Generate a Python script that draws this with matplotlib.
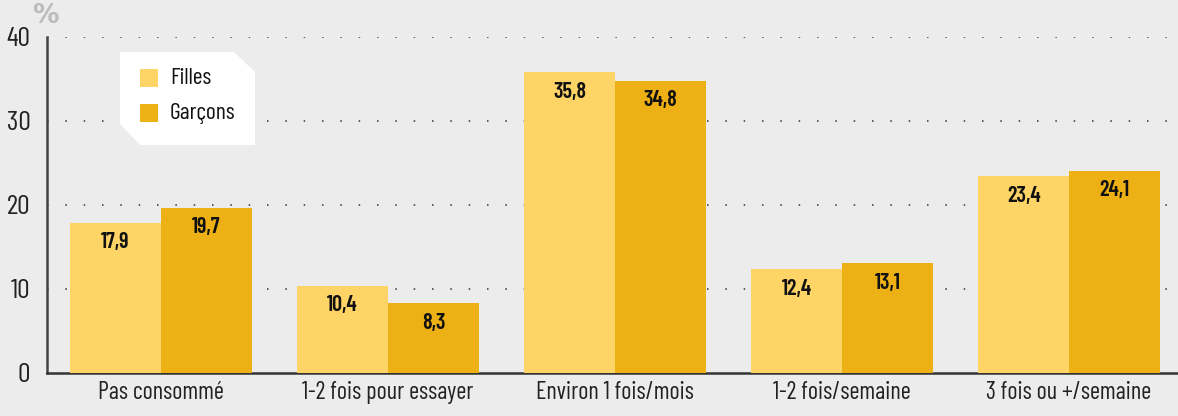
import numpy as np
import matplotlib.pyplot as plt
from matplotlib.patches import Polygon, Rectangle
from matplotlib import font_manager

# données
categories = ['Pas consommé', '1-2 fois pour essayer', 'Environ 1 fois/mois',
              '1-2 fois/semaine', '3 fois ou +/semaine']
filles = [17.9, 10.4, 35.8, 12.4, 23.4]
garcons = [19.7, 8.3, 34.8, 13.1, 24.1]
series_names = ['Filles', 'Garçons']
yticks = [0, 10, 20, 30, 40]

col_f = '#FFD466'
col_g = '#EEB115'
bg = '#ECECEC'

# police étroite : la première disponible
names = {f.name for f in font_manager.fontManager.ttflist}
candidates = ['Barlow Condensed', 'Fira Sans Condensed', 'Barlow Semi Condensed',
              'PT Sans Narrow', 'Roboto Condensed', 'Liberation Sans Narrow']
font = next((c for c in candidates if c in names), 'DejaVu Sans')
plt.rcParams['font.family'] = [font, 'DejaVu Sans']

fig = plt.figure(figsize=(11.78, 4.16), dpi=100, facecolor=bg)
ax = fig.add_axes([0.0399, 0.1034, 0.9601, 0.8077])
ax.set_facecolor(bg)

x = np.arange(len(categories))
w = 0.4
b1 = ax.bar(x - w / 2, filles, w, color=col_f, zorder=3)
b2 = ax.bar(x + w / 2, garcons, w, color=col_g, zorder=3)

for bars, vals in [(b1, filles), (b2, garcons)]:
    for r, v in zip(bars, vals):
        ax.annotate(f'{v:.1f}'.replace('.', ','),
                    (r.get_x() + r.get_width() / 2, v),
                    xytext=(0, -7), textcoords='offset points',
                    ha='center', va='top', fontsize=16, fontweight=600,
                    color='#111111', zorder=4)

ax.set_xlim(-0.502, 4.48)
ax.set_ylim(0, 40)
ax.set_yticks(yticks)
ax.set_yticklabels([str(t) for t in yticks], fontsize=20, color='#222222')
ax.set_xticks(x)
ax.set_xticklabels(categories, fontsize=17.5, color='#222222')
ax.tick_params(axis='both', length=0)
ax.tick_params(axis='y', pad=12)
ax.tick_params(axis='x', pad=6)

for t in yticks[1:]:
    ax.axhline(t, color='#333333', lw=1.1, ls=(0, (1, 11)), zorder=1)

for s in ['top', 'right']:
    ax.spines[s].set_visible(False)
ax.spines['left'].set_color('#444444')
ax.spines['left'].set_linewidth(1.8)
ax.spines['bottom'].set_color('#333333')
ax.spines['bottom'].set_linewidth(1.8)

# légende dans une boîte blanche aux coins coupés
px = lambda X, Y: (X / 1178, 1 - Y / 416)
box = Polygon([px(120, 52), px(234, 52), px(255, 72), px(255, 145),
               px(140, 145), px(120, 124)], closed=True,
              transform=fig.transFigure, facecolor='white', edgecolor='none', zorder=5)
fig.add_artist(box)
for i, (nm, c) in enumerate(zip(series_names, [col_f, col_g])):
    y0 = 69 + i * 35
    sq = Rectangle(px(140, y0 + 18), 18 / 1178, 18 / 416, transform=fig.transFigure,
                   facecolor=c, edgecolor='none', zorder=6)
    fig.add_artist(sq)
    fig.text(*px(170, y0 + 9), nm, fontsize=17, va='center', ha='left', color='#111111', zorder=6)

fig.text(*px(32, 16), '%', fontsize=19, fontweight='bold', color='#BBBBBB',
         ha='left', va='center', family=['DejaVu Sans'])

fig.savefig('out.png', dpi=100, facecolor=bg)
